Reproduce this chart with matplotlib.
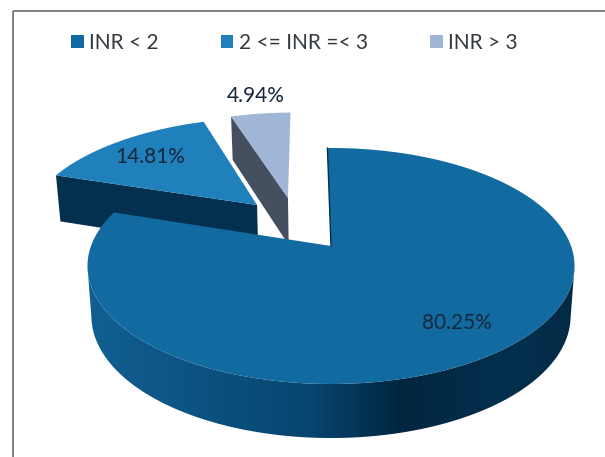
import numpy as np
import matplotlib
matplotlib.use("Agg")
import matplotlib.pyplot as plt
from matplotlib.patches import Patch, Polygon
from matplotlib.colors import LinearSegmentedColormap

# ---------- data ----------
categories = ["INR < 2", "2 <= INR =< 3", "INR > 3"]
values = [80.25, 14.81, 4.94]
value_labels = ["80.25%", "14.81%", "4.94%"]

# ---------- style ----------
top_colors = ["#116AA0", "#1F80BC", "#A0B6D6"]
wall_colors = ["#03304F", "#03304F", "#454F60"]
explode_uv = [(0.0, 0.0), (-0.328, 0.381), (-0.193, 0.451)]
label_xy = [(457, 323), (150, 157), (256, 96)]
FONT = "Lato"
TEXT = "#14273A"
LEGEND_TEXT = "#33393F"

# projection of the unit disc onto the picture (perspective tilt)
CX, CY, RX, RY, P = 331.0, 246.0, 240.0, 114.6, 0.1695
ROT = -1.0       # degrees
DEPTH, DEPTH_Q = 49.0, 0.093
SHRINK = 0.984


def project(u, v):
    w = 1 + P * v
    return CX + RX * u / w, CY - RY * v / w


def project_low(u, v):
    x, y = project(u, v)
    return CX + (x - CX) * SHRINK, y + DEPTH / (1 + DEPTH_Q * v)


fig = plt.figure(figsize=(6.05, 4.57), dpi=100)
ax = fig.add_axes([0, 0, 1, 1])
ax.set_xlim(0, 605)
ax.set_ylim(457, 0)
ax.axis("off")

# frame
ax.plot([13, 13], [457, 11], color="#6A6A6A", lw=1.2, solid_capstyle="butt")
ax.plot([13, 605], [11, 11], color="#6A6A6A", lw=1.2, solid_capstyle="butt")

edges = np.concatenate([[0], np.cumsum(values)]) / sum(values) * 360 + ROT
wall_map = LinearSegmentedColormap.from_list(
    "wall", [(0.0, "#115F92"), (0.45, "#064670"), (0.64, "#02263F"),
             (0.85, "#03304E"), (1.0, "#032A45")])


def slice_uv(i):
    th = np.radians(np.linspace(edges[i], edges[i + 1], 300))
    du, dv = explode_uv[i]
    return np.sin(th) + du, np.cos(th) + dv, du, dv


def draw_slice(i, z):
    us, vs, du, dv = slice_uv(i)
    xs, ys = project(us, vs)
    ax0, ay0 = project(du, dv)
    if i == 0:
        # outer wall shaded from left to right, between the two silhouette points
        keep = (vs - dv) < -P
        lx, ly = project_low(us[keep], vs[keep])
        outline = np.c_[np.r_[xs[keep], lx[::-1]], np.r_[ys[keep], ly[::-1]]]
        gradient = np.linspace(0, 1, 256).reshape(1, -1)
        im = ax.imshow(gradient, cmap=wall_map, aspect="auto", zorder=z,
                       extent=(88, 578, 457, 200), interpolation="bilinear")
        im.set_clip_path(Polygon(outline, closed=True, transform=ax.transData))
        ax.set_xlim(0, 605)
        ax.set_ylim(457, 0)
        ax.plot([xs[0], ax0], [ys[0], ay0], color="#03304F", lw=1.0, zorder=z + 2)
    else:
        # visible cut face along the first edge of the slice
        bx0, by0 = project_low(du, dv)
        bx1, by1 = project_low(us[0], vs[0])
        ax.fill([xs[0], ax0, bx0, bx1], [ys[0], ay0, by0, by1],
                color=wall_colors[i], lw=0, zorder=z)
    ax.fill(np.r_[ax0, xs], np.r_[ay0, ys], color=top_colors[i], lw=0, zorder=z + 1)


draw_slice(1, 2)
draw_slice(2, 2)
draw_slice(0, 4)

for lab, (x, y) in zip(value_labels, label_xy):
    ax.text(x, y, lab, ha="center", va="center", fontsize=15, family=FONT,
            color=TEXT, zorder=8)

handles = [Patch(color=c, lw=0) for c in top_colors]
leg = ax.legend(handles, categories, ncol=3, frameon=False, loc="center left",
                bbox_to_anchor=(71 / 605, 1 - 43 / 457), handlelength=0.6,
                handleheight=0.6, handletextpad=0.25, columnspacing=3.0,
                borderpad=0, borderaxespad=0,
                prop={"family": FONT, "size": 15}, labelcolor=LEGEND_TEXT)

fig.savefig("out.png", dpi=100)
